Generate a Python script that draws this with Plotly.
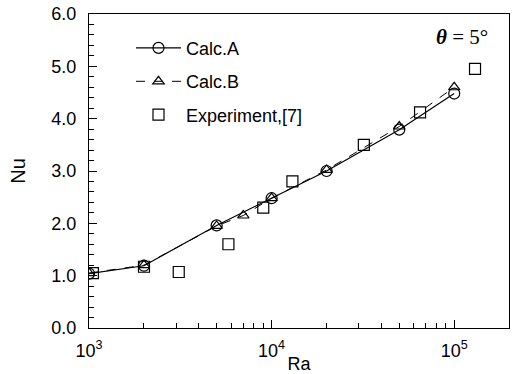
import plotly.graph_objects as go

ra_a = [1000, 2000, 5000, 10000, 20000, 50000, 100000]
nu_a = [1.04, 1.19, 1.96, 2.48, 3.00, 3.79, 4.48]

ra_b = [1000, 2000, 5000, 7000, 10000, 20000, 50000, 100000]
nu_b = [1.05, 1.20, 1.95, 2.15, 2.48, 3.02, 3.85, 4.60]

ra_e = [1050, 2000, 3100, 5800, 9000, 13000, 32000, 65000, 130000]
nu_e = [1.05, 1.17, 1.07, 1.60, 2.30, 2.80, 3.50, 4.12, 4.95]

x_major = [1000, 10000, 100000]
x_major_text = ["10<sup>3</sup>", "10<sup>4</sup>", "10<sup>5</sup>"]
x_minor = [m * d for d in (1000, 10000, 100000) for m in range(2, 10)]
y_major = [0, 1, 2, 3, 4, 5, 6]
y_major_text = ["0.0", "1.0", "2.0", "3.0", "4.0", "5.0", "6.0"]

fig = go.Figure()
fig.add_trace(go.Scatter(x=ra_a, y=nu_a, mode="lines+markers", name="Calc.A", legendgroup="a",
                         line=dict(color="black", width=1.2),
                         marker=dict(symbol="circle-open", size=11, color="black", line=dict(width=1.2))))
fig.add_trace(go.Scatter(x=ra_b, y=nu_b, mode="lines+markers", name="Calc.B", legendgroup="b",
                         line=dict(color="black", width=1, dash="dash"),
                         marker=dict(symbol="triangle-up-open", size=10, color="black", line=dict(width=1.2))))
fig.add_trace(go.Scatter(x=ra_e, y=nu_e, mode="markers", name="Experiment,[7]", legendgroup="e",
                         marker=dict(symbol="square-open", size=11, color="black", line=dict(width=1.2))))

fig.add_annotation(x=0.955, y=0.97, xref="paper", yref="paper", xanchor="right", yanchor="top",
                   text="<b><i>θ</i></b> = 5°", showarrow=False,
                   font=dict(family="Liberation Serif", size=21, color="black"))

fig.update_layout(
    width=514, height=374,
    margin=dict(l=89, r=5, t=14, b=46),
    paper_bgcolor="white", plot_bgcolor="white",
    font=dict(family="Liberation Sans", size=17, color="black"),
    legend=dict(x=0.10, y=0.95, xanchor="left", yanchor="top",
                bgcolor="rgba(0,0,0,0)", font=dict(size=18), tracegroupgap=7,
                itemwidth=45),
    xaxis=dict(type="log", range=[3, 5.30], showgrid=False, zeroline=False, automargin=False,
               showline=True, linecolor="black", linewidth=1.2, mirror=True,
               tickvals=x_major, ticktext=x_major_text, ticks="inside", ticklen=8,
               tickcolor="black", tickfont=dict(size=18), ticklabelstandoff=6,
               minor=dict(tickvals=x_minor, ticks="inside", ticklen=5, tickcolor="black", showgrid=False),
               title=dict(text="Ra", standoff=3, font=dict(size=18))),
    yaxis=dict(range=[0, 6], showgrid=False, zeroline=False, automargin=False,
               showline=True, linecolor="black", linewidth=1.2, mirror=True,
               tickvals=y_major, ticktext=y_major_text, ticks="inside", ticklen=8,
               tickcolor="black", tickfont=dict(size=18), ticklabelstandoff=8,
               minor=dict(dtick=0.2, ticks="inside", ticklen=5, tickcolor="black", showgrid=False),
               title=dict(text="Nu", standoff=20, font=dict(size=20))),
)

fig.write_html("out.html")
